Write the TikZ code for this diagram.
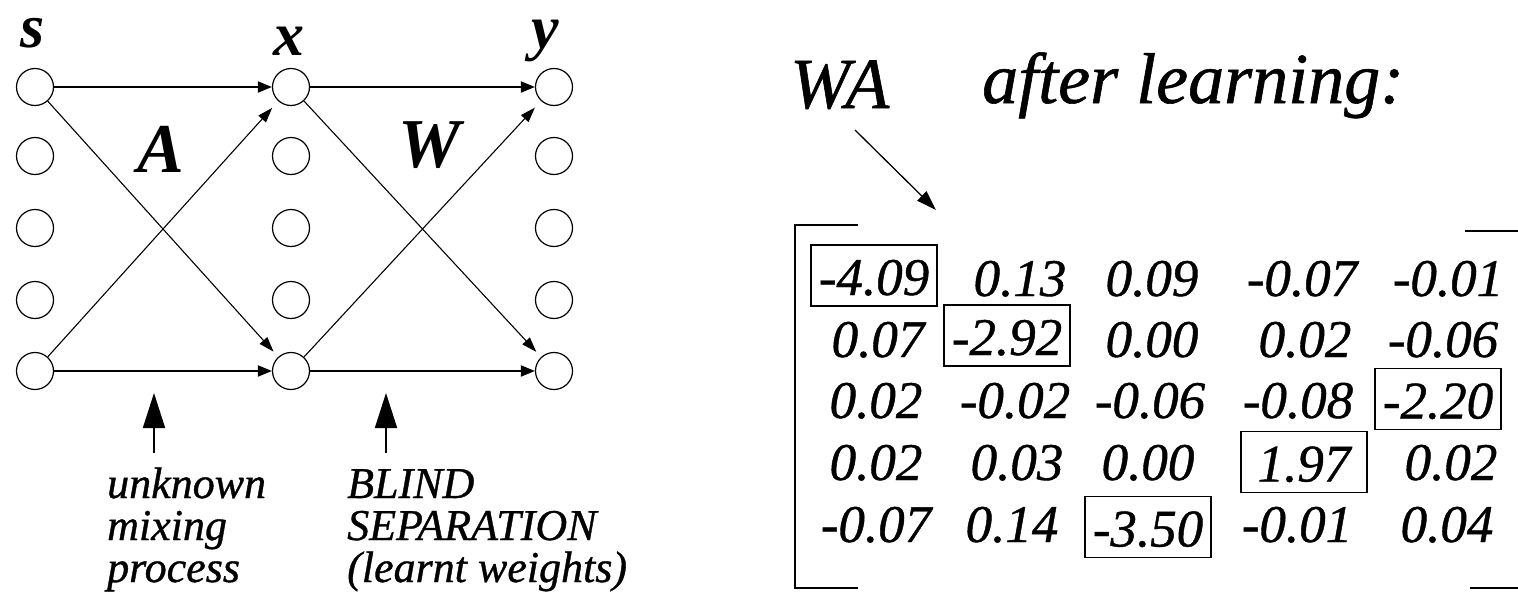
\documentclass[tikz,border=0pt]{standalone}
\usepackage{fontspec}
\setmainfont{Liberation Serif}
\newfontfamily\heavy{Liberation Serif}[FakeBold=0.8]
\usetikzlibrary{arrows.meta}
\begin{document}
\begin{tikzpicture}[x=1pt,y=-1pt,
  neuron/.style={circle,draw,line width=1.2pt,minimum size=37pt,inner sep=0pt},
  hconn/.style={line width=1.9pt,-{Triangle[length=14pt,width=11pt]}},
  dconn/.style={line width=1.1pt,-{Triangle[length=15pt,width=10pt]}},
  uparrow/.style={line width=1.8pt,-{Triangle[length=35pt,width=22pt]}},
  waarrow/.style={line width=1.3pt,-{Triangle[length=20pt,width=13pt]}},
  lyrlabel/.style={font=\fontsize{62}{70}\selectfont\bfseries\itshape,inner sep=0pt,anchor=base},
  wlabel/.style={font=\fontsize{70}{80}\selectfont\bfseries\itshape,inner sep=0pt,anchor=base},
  lab/.style={font=\heavy\fontsize{44}{48}\selectfont\itshape,inner sep=0pt,anchor=base west},
  titletext/.style={font=\heavy\fontsize{72}{76}\selectfont\itshape,inner sep=0pt,anchor=base west},
  numcell/.style={font=\heavy\fontsize{53}{60}\selectfont\itshape,inner sep=0pt,text height=39pt,text depth=0pt,minimum width=126pt,minimum height=61pt},
  numbox/.style={numcell,draw,line width=1.4pt},
  bracket/.style={line width=1.8pt},
]
\useasboundingbox (0,0) rectangle (1518,597);

% neurons
\foreach \i/\yy in {1/87,2/156,3/228,4/300,5/371}{
  \node[neuron] (s\i) at (35,\yy) {};
  \node[neuron] (x\i) at (291,\yy) {};
  \node[neuron] (y\i) at (554,\yy) {};
}

% layer labels
\node[lyrlabel] (ls) at (33,47) {s};
\node[lyrlabel] (lx) at (289,55) {x};
\node[lyrlabel] (ly) at (545,48) {y};
\node[wlabel] (lA) at (161,172) {A};
\node[wlabel] (lW) at (430,167) {W};

% connections A
\draw[hconn] (s1) -- (x1);
\draw[hconn] (s5) -- (x5);
\draw[dconn,shorten >=7pt] (s1) -- (x5);
\draw[dconn,shorten >=9pt] (s5) -- (x1);
% connections W
\draw[hconn] (x1) -- (y1);
\draw[hconn] (x5) -- (y5);
\draw[dconn,shorten >=7pt] (x1) -- (y5);
\draw[dconn,shorten >=9pt] (x5) -- (y1);

% up arrows
\coordinate (ua0) at (154,453);
\coordinate (ua1) at (154,393);
\coordinate (ub0) at (386,453);
\coordinate (ub1) at (386,393);
\draw[uparrow] (ua0) -- (ua1);
\draw[uparrow] (ub0) -- (ub1);

% captions
\node[lab] (u1) at (107,498) {unknown};
\node[lab] (u2) at (107,540) {mixing};
\node[lab] (u3) at (107,582) {process};
\node[lab] (b1) at (347,498) {BLIND};
\node[lab] (b2) at (347,540) {SEPARATION};
\node[lab] (b3) at (347,582) {(learnt weights)};

% title
\node[titletext] (WA) at (790,108) {WA};
\node[titletext] (after) at (982,103) {after learning:};
\coordinate (wa0) at (855,130);
\coordinate (wa1) at (936,210);
\draw[waarrow] (wa0) -- (wa1);

% brackets
\draw[bracket] (858,225) -- (795,225) -- (795,588) -- (858,588);
\draw[bracket] (1465,231) -- (1518,231);
\draw[bracket] (1470,588) -- (1518,588);

% matrix
\node[numbox]  (m11) at (874,275.5) {-4.09};
\node[numcell] (m12) at (1020,276.5) {0.13};
\node[numcell] (m13) at (1152,276.5) {0.09};
\node[numcell] (m14) at (1302,276.5) {-0.07};
\node[numcell] (m15) at (1448,276.5) {-0.01};

\node[numcell] (m21) at (878,337.5) {0.07};
\node[numbox]  (m22) at (1007,335.5) {-2.92};
\node[numcell] (m23) at (1152,337.5) {0.00};
\node[numcell] (m24) at (1305,337.5) {0.02};
\node[numcell] (m25) at (1443,337.5) {-0.06};

\node[numcell] (m31) at (876,398.5) {0.02};
\node[numcell] (m32) at (1015,398.5) {-0.02};
\node[numcell] (m33) at (1150,398.5) {-0.06};
\node[numcell] (m34) at (1298,398.5) {-0.08};
\node[numbox]  (m35) at (1438,399) {-2.20};

\node[numcell] (m41) at (876,460.5) {0.02};
\node[numcell] (m42) at (1017,460.5) {0.03};
\node[numcell] (m43) at (1148,460.5) {0.00};
\node[numbox]  (m44) at (1304,462) {1.97};
\node[numcell] (m45) at (1451,460.5) {0.02};

\node[numcell] (m51) at (876,522.5) {-0.07};
\node[numcell] (m52) at (1012,522.5) {0.14};
\node[numbox]  (m53) at (1148,527) {-3.50};
\node[numcell] (m54) at (1297,522.5) {-0.01};
\node[numcell] (m55) at (1447,522.5) {0.04};
\end{tikzpicture}
\end{document}
